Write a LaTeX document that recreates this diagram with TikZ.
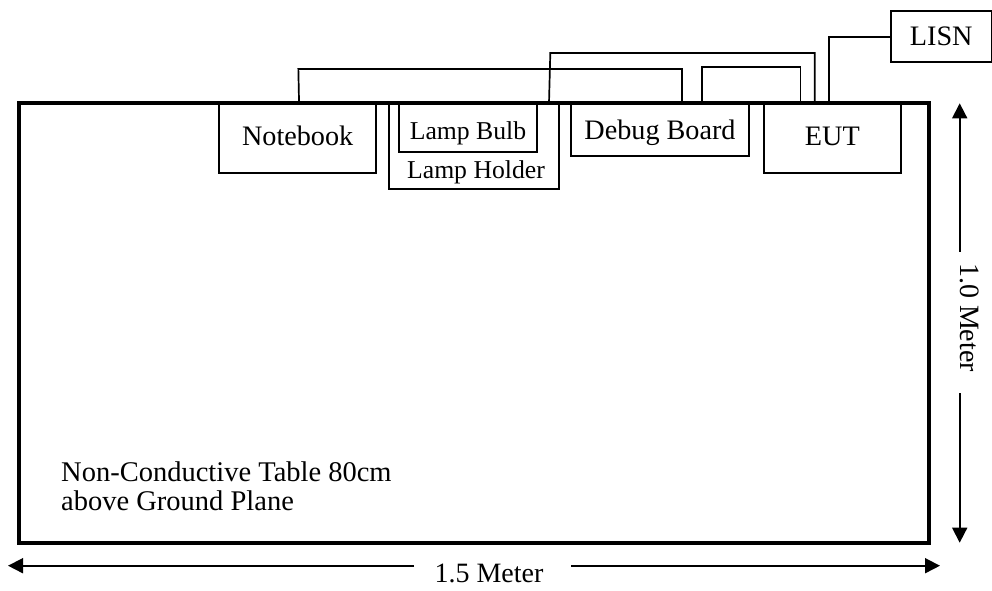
\documentclass[tikz,border=0pt]{standalone}
\usepackage{fontspec}
\setmainfont{Liberation Serif}
\usetikzlibrary{arrows.meta}
\newcommand{\fs}[1]{\fontsize{#1}{#1}\selectfont}
\tikzset{
  x=1pt,y=-1pt,
  box/.style={draw=black,line width=1.7pt,rectangle,inner sep=0pt,outer sep=0pt,anchor=north west,font=\fs{28.2}},
  smallbox/.style={box,font=\fs{25.7}},
  wire/.style={draw=black,line width=1.7pt,line join=miter},
  dim/.style={draw=black,line width=1.7pt,-{Triangle[length=15pt,width=15pt]}},
  table/.style={draw=black,line width=4pt,rectangle,inner sep=0pt,outer sep=0pt,anchor=north west},
  lab/.style={inner sep=0pt,anchor=base,font=\fs{28}},
}
\begin{document}
\begin{tikzpicture}
\useasboundingbox (0,0) rectangle (992,590);
\clip (0,0) rectangle (992,590);
\node[box,minimum width=157.3pt,minimum height=70pt,text height=15.4pt,text depth=0pt] (nb) at (219,103) {Notebook};
\node[box,minimum width=170pt,minimum height=85.7pt] (lh) at (388.7,103) {};
\node[lab,font=\fs{25.7}] (lht) at (476,178.3) {Lamp Holder};
\node[smallbox,minimum width=138pt,minimum height=49.3pt,text height=22.7pt,text depth=0pt] (lb) at (399,103) {Lamp Bulb};
\node[box,minimum width=178.6pt,minimum height=52.7pt,text height=20pt,text depth=0pt] (db) at (570.7,103) {Debug Board};
\node[box,minimum width=136.7pt,minimum height=69.7pt,text height=15.7pt,text depth=0pt] (eut) at (764,103) {EUT};
\node[box,minimum width=101pt,minimum height=51pt,text height=16.4pt,text depth=0pt] (lisn) at (890.7,11.3) {LISN};
\draw[wire] ([xshift=1.4pt]nb.north) -- ++(-0.7,-34) -| ([xshift=22pt]db.north);
\draw[wire] ([xshift=75.3pt]lh.north) -- ++(1.3,-50) -| ([xshift=-17.65pt]eut.north);
\draw[wire] ([xshift=41.7pt]db.north) -- ++(0,-36) -| ([xshift=-32pt]eut.north);
\draw[wire] ([xshift=-3.65pt]eut.north) |- (lisn.west);
\node[table,minimum width=910.8pt,minimum height=440.3pt] (tb) at (18.5,103) {};
\node[inner sep=0pt,anchor=base west,align=left,font=\fontsize{28.5}{28.3}\selectfont] (nc) at (61,510) {Non-Conductive Table 80cm\\above Ground Plane};
\node[lab] (w) at (489,582.7) {1.5 Meter};
\coordinate (wl) at (414,565.7);
\coordinate (wr) at (571,565.7);
\coordinate (wle) at (8,565.7);
\coordinate (wre) at (940,565.7);
\draw[dim] (wl) -- (wle);
\draw[dim] (wr) -- (wre);
\node[lab,rotate=-90] (h) at (960.5,317.5) {1.0 Meter};
\coordinate (ht) at (959.7,251.7);
\coordinate (hb) at (959.7,393.3);
\coordinate (hte) at (959.7,103.3);
\coordinate (hbe) at (959.7,542.7);
\draw[dim] (ht) -- (hte);
\draw[dim] (hb) -- (hbe);
\end{tikzpicture}
\end{document}
